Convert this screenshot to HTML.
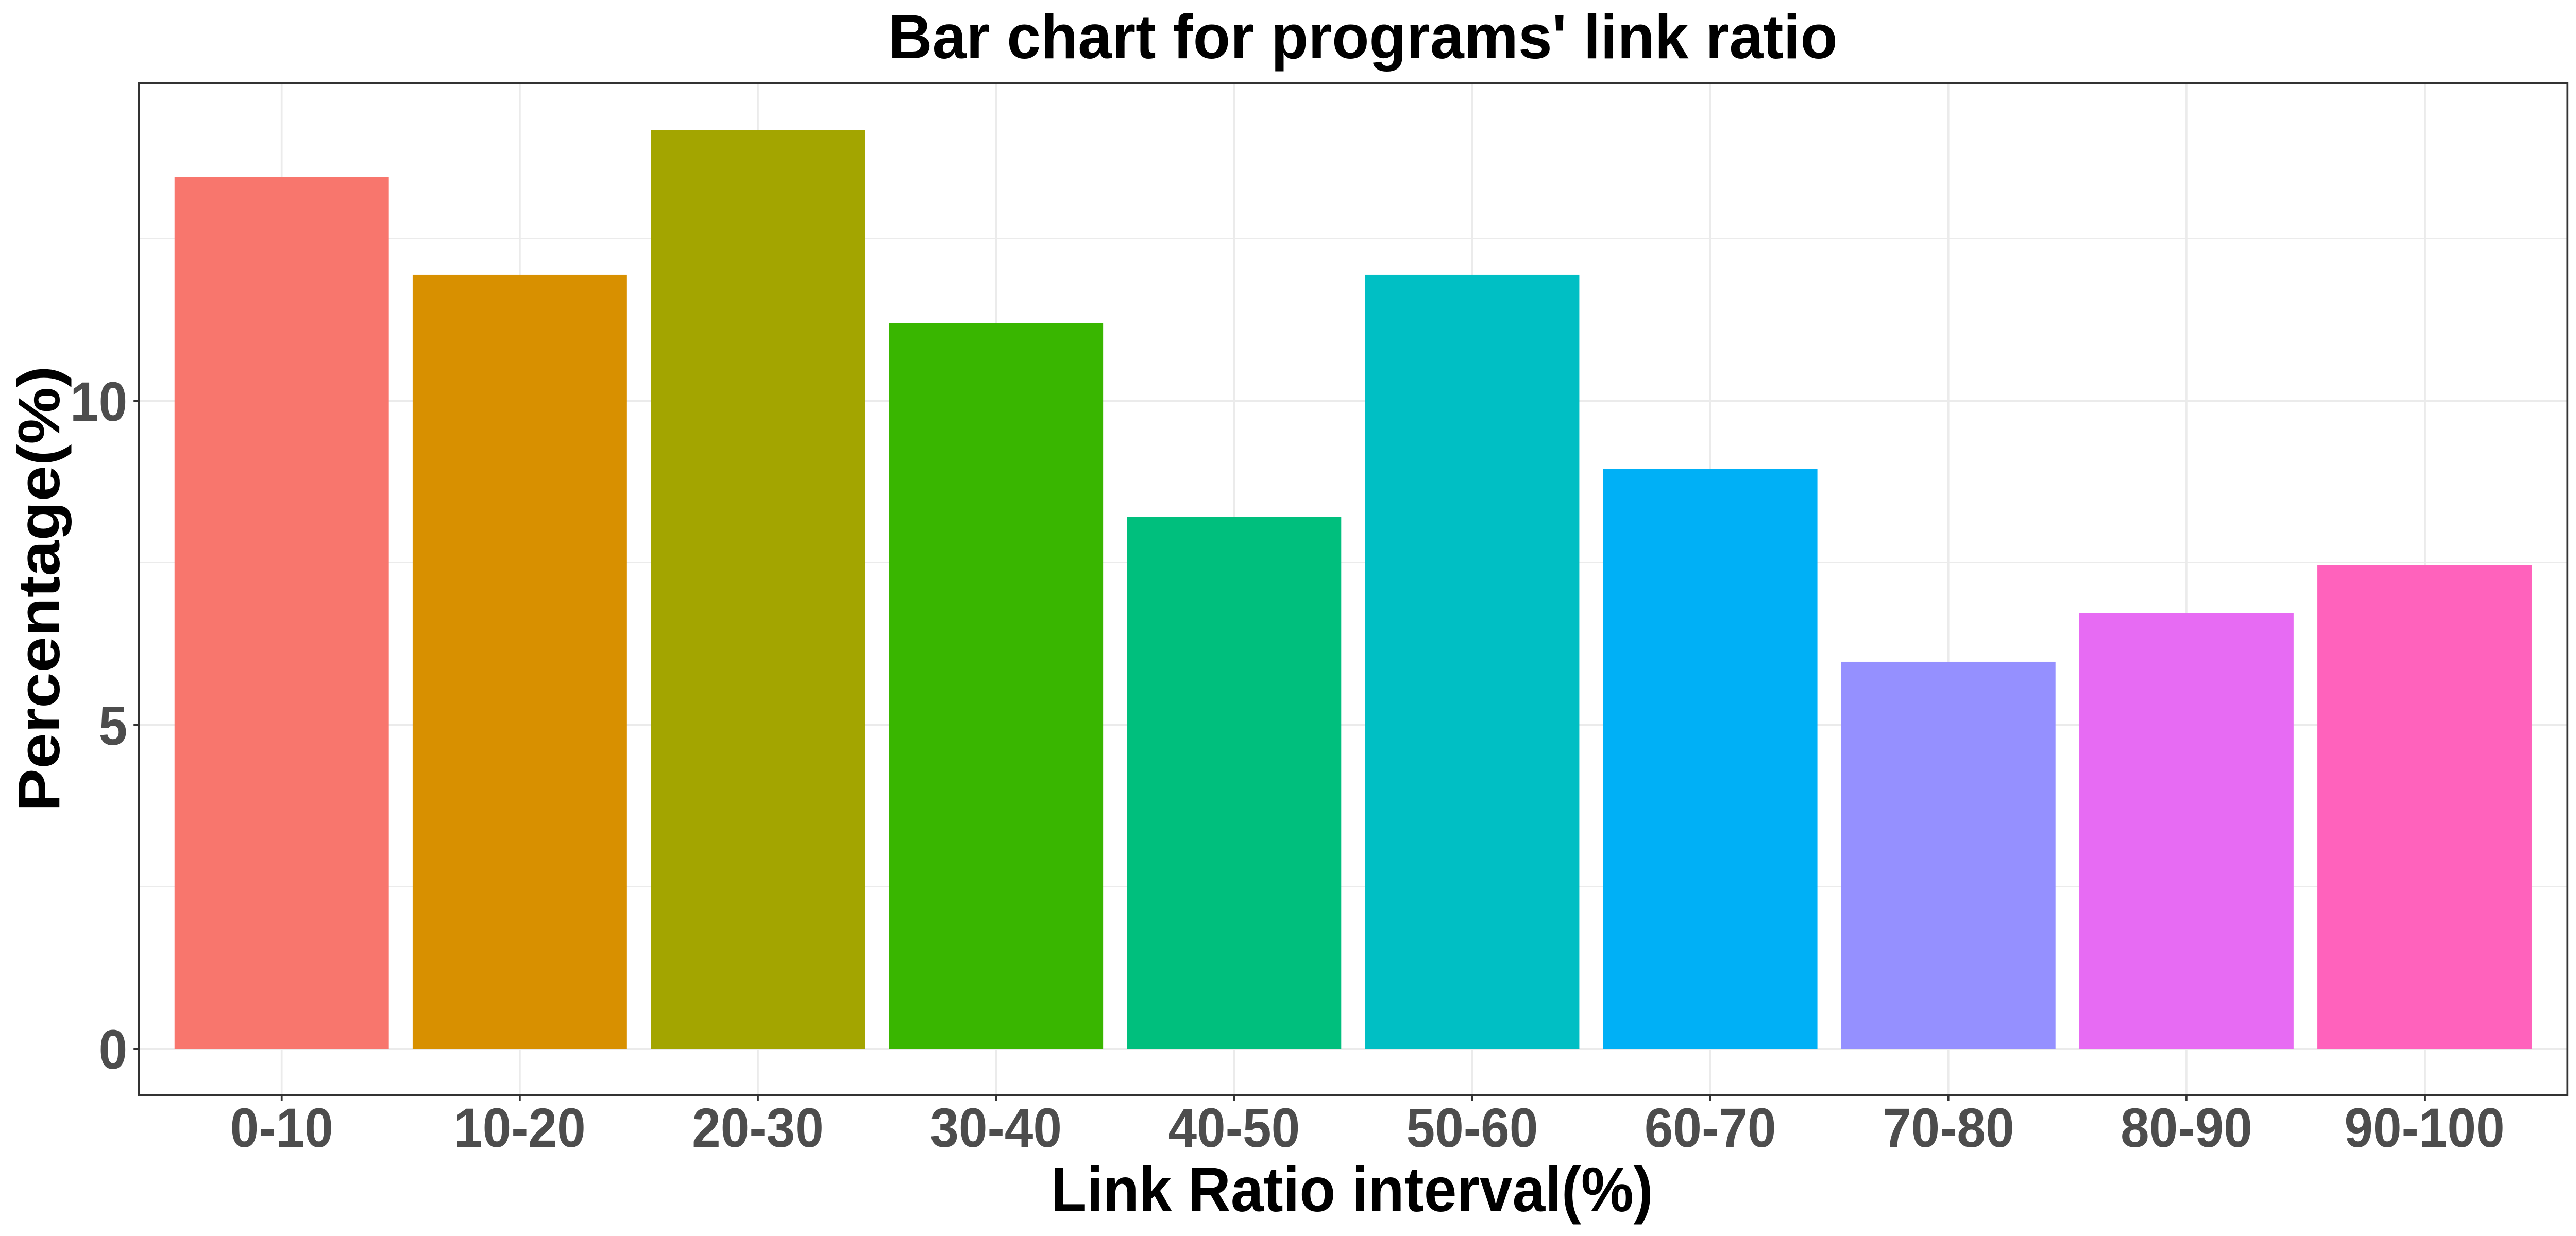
<!DOCTYPE html>
<html><head><meta charset="utf-8"><style>
html,body{margin:0;padding:0;background:#fff;width:100%;height:100%;overflow:hidden;}
svg{display:block;position:absolute;left:0;top:0;width:100vw;height:100vh;}
text{font-family:"Liberation Sans",Arial,sans-serif;font-weight:bold;}
</style></head><body>
<svg id="chart" viewBox="0 0 5400 2400" preserveAspectRatio="none" xmlns="http://www.w3.org/2000/svg">
<rect x="0" y="0" width="5400" height="2400" fill="#fff"/>
<text x="1862" y="113" font-size="122" fill="#000" textLength="1990" lengthAdjust="spacingAndGlyphs">Bar chart for programs' link ratio</text>
<g id="grid"></g>
<g id="bars"></g>
<rect x="291" y="162" width="5091" height="1964" fill="none" stroke="#333" stroke-width="4"/>
<g id="axes"></g>
<text x="2834" y="2352" font-size="123" text-anchor="middle" fill="#000" textLength="1263" lengthAdjust="spacingAndGlyphs">Link Ratio interval(%)</text>
<text transform="translate(124,1143) rotate(-90)" font-size="123" text-anchor="middle" fill="#000" textLength="865" lengthAdjust="spacingAndGlyphs">Percentage(%)</text>
</svg>
<script>
const categories = ["0-10","10-20","20-30","30-40","40-50","50-60","60-70","70-80","80-90","90-100"];
const values = [13.45,11.94,14.18,11.2,8.21,11.94,8.95,5.97,6.72,7.46];
const colors = ["#F8766D","#D89000","#A3A500","#39B600","#00BF7D","#00BFC4","#00B0F6","#9590FF","#E76BF3","#FF62BC"];
const yTicks = [0,5,10];
const yMinor = [2.5,7.5,12.5];

const NS = "http://www.w3.org/2000/svg";
const L = 291, R = 5382, T = 162, B = 2126;
const step = (R - L) / (categories.length + 0.2);
function xScale(i){ return L + step * (0.6 + i); }
const y0 = 2036, pxPerUnit = 125.8;
function yScale(v){ return y0 - v * pxPerUnit; }
function mk(tag, attrs, parent){
  const e = document.createElementNS(NS, tag);
  for (const k in attrs) e.setAttribute(k, attrs[k]);
  parent.appendChild(e);
  return e;
}
const grid = document.getElementById('grid');
const bars = document.getElementById('bars');
const axes = document.getElementById('axes');

yMinor.forEach(v => {
  const l = mk('line', {x1:L, x2:R, y1:yScale(v), y2:yScale(v), stroke:'#ebebeb', 'stroke-width':2}, grid);
  
  
});
yTicks.forEach(v => {
  const l = mk('line', {x1:L, x2:R, y1:yScale(v), y2:yScale(v), stroke:'#ebebeb', 'stroke-width':4}, grid);
  
  
  const t = mk('line', {x1:L-11, x2:L, y1:yScale(v), y2:yScale(v), stroke:'#333', 'stroke-width':4}, axes);
  
  
  const lab = mk('text', {x:L-24, y:yScale(v)+39, 'font-size':108, fill:'#4d4d4d', 'text-anchor':'end'}, axes);
  lab.textContent = v;
  
  
});
categories.forEach((c, i) => {
  const cx = xScale(i);
  const g = mk('line', {x1:cx, x2:cx, y1:T, y2:B, stroke:'#ebebeb', 'stroke-width':4}, grid);
  
  
  const w = step * 0.9;
  const r = mk('rect', {x:cx - w/2, y:yScale(values[i]), width:w, height:yScale(0) - yScale(values[i]), fill:colors[i]}, bars);
  
  
  const t = mk('line', {x1:cx, x2:cx, y1:B, y2:B+11, stroke:'#333', 'stroke-width':4}, axes);
  
  
  const lab = mk('text', {x:cx, y:2227, 'font-size':108, fill:'#4d4d4d', 'text-anchor':'middle'}, axes);
  lab.textContent = c;
  
  
});
</script>
</body></html>
